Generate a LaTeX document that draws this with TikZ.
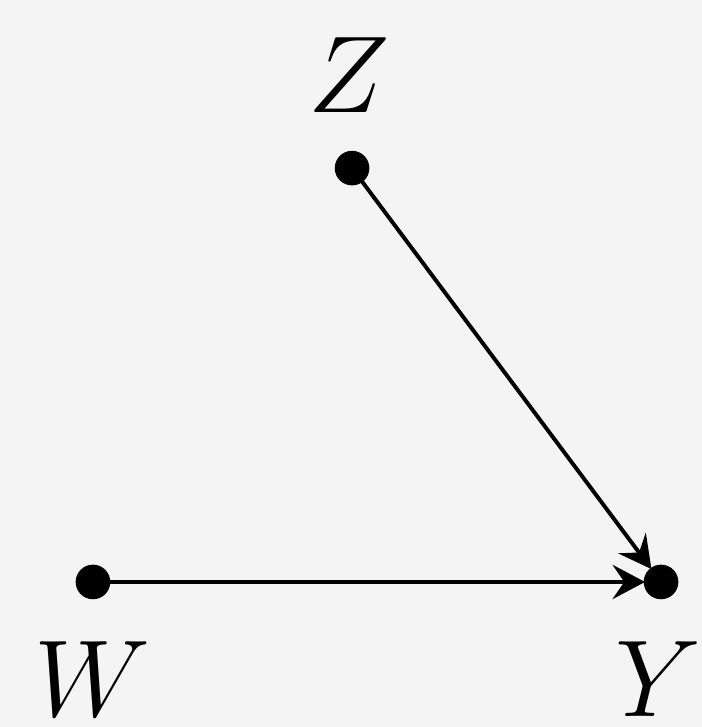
\documentclass[tikz,border=0pt]{standalone}
\usepackage{amsmath}
\usepackage{tikz}
\usepackage[compat=1.1.0]{tikz-feynman}
\usetikzlibrary{arrows.meta}
\definecolor{paper}{HTML}{F4F4F4}

\begin{document}
\begin{tikzpicture}[baseline=(current bounding box.center)]
  \fill[paper] (0,0) rectangle (3.896,4.035);
  \useasboundingbox (0,0) rectangle (3.896,4.035);
  \begin{feynman}
    \vertex[dot, minimum size=0.178cm] (z) at (1.954,3.102) {};
    \vertex[dot, minimum size=0.178cm] (w) at (0.516,0.805) {};
    \vertex[dot, minimum size=0.178cm] (y) at (3.669,0.805) {};
    \node[anchor=base] (zl) at (1.935,3.413) {\LARGE $Z$};
    \node[anchor=base] (wl) at (0.511,0.060) {\LARGE $W$};
    \node[anchor=base] (yl) at (3.657,0.060) {\LARGE $Y$};
    \draw[line width=0.62pt, -{Stealth[length=0.18cm, width=0.19cm, inset=0.065cm]}] (z) -- (y);
    \draw[line width=0.62pt, -{Stealth[length=0.18cm, width=0.19cm, inset=0.065cm]}] (w) -- (y);
  \end{feynman}
\end{tikzpicture}
\end{document}
